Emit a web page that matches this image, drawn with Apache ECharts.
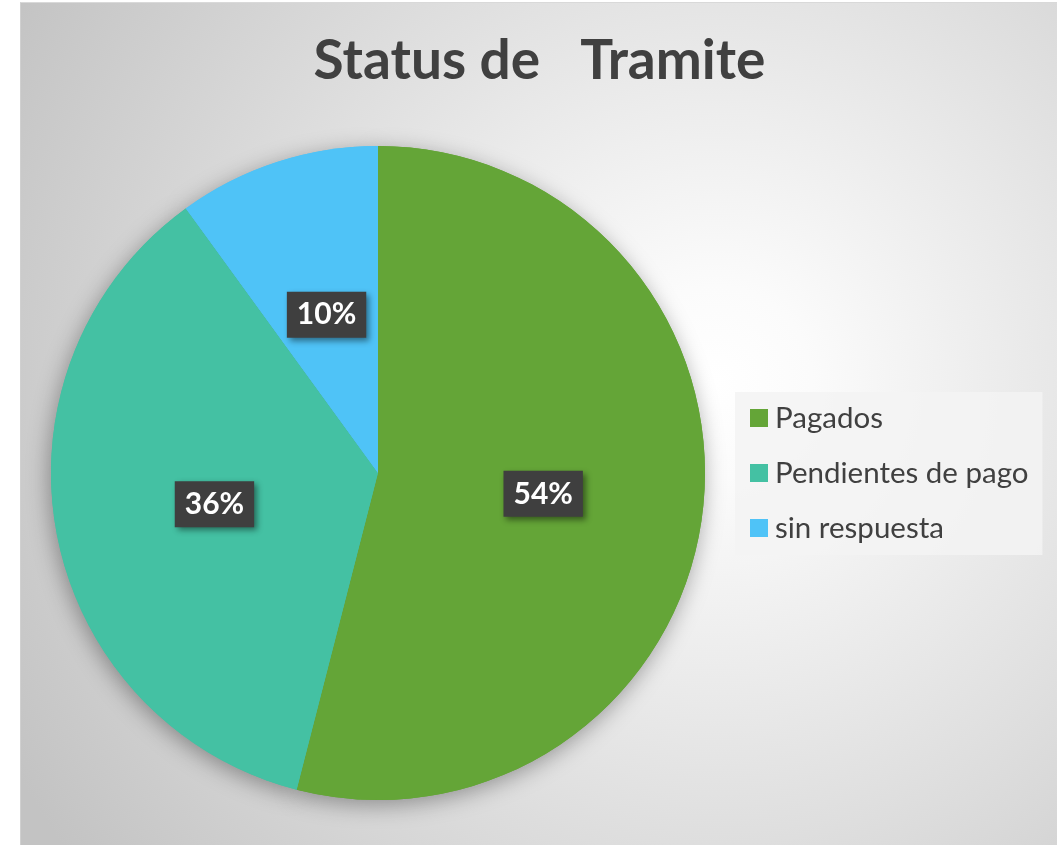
<!DOCTYPE html>
<html>
<head>
<meta charset="utf-8">
<script src="https://cdn.jsdelivr.net/npm/echarts@6/dist/echarts.min.js"></script>
<style>
  html, body { margin: 0; padding: 0; background: #ffffff; }
  #chart {
    position: absolute; left: 20px; top: 2px;
    width: 1037px; height: 843px;
    border-top: 1px solid #d9d9d9; border-left: 1px solid #d0d0d0;
  }
</style>
</head>
<body>
<div id="chart"></div>
<script>
// data
var titleText = "Status de   Tramite";
var categories = ["Pagados", "Pendientes de pago", "sin respuesta"];
var values = [54, 36, 10];
var colors = ["#64a537", "#44c1a3", "#4fc3f7"];

var pieData = categories.map(function (name, i) {
  return { name: name, value: values[i], itemStyle: { color: colors[i] } };
});

var myChart = echarts.init(document.getElementById("chart"));
var option = {
  animation: false,
  backgroundColor: {
    type: "radial",
    x: 0.67, y: 0.45, r: 0.95,
    colorStops: [
      { offset: 0, color: "#ffffff" },
      { offset: 0.12, color: "#fbfbfb" },
      { offset: 1, color: "#c3c3c3" }
    ]
  },
  title: {
    text: titleText,
    left: "center",
    top: 26,
    textStyle: {
      fontFamily: "Lato",
      fontWeight: "bold",
      fontSize: 55,
      color: "#404040"
    }
  },
  legend: {
    orient: "vertical",
    left: 714,
    top: 389,
    icon: "rect",
    itemWidth: 18,
    itemHeight: 18,
    itemGap: 21,
    padding: [9, 14, 10, 15],
    backgroundColor: "rgba(243,243,243,0.85)",
    textStyle: {
      fontFamily: "Lato",
      fontSize: 29.5,
      lineHeight: 34,
      color: "#404040",
      padding: [0, 0, 0, 2]
    },
    data: categories
  },
  series: [
    {
      // shadow under the pie
      type: "pie",
      silent: true,
      center: [357, 470],
      radius: 327,
      label: { show: false },
      labelLine: { show: false },
      itemStyle: {
        shadowBlur: 22,
        shadowColor: "rgba(0,0,0,0.35)",
        shadowOffsetX: -2,
        shadowOffsetY: 5
      },
      data: pieData
    },
    {
      name: "Status",
      type: "pie",
      center: [357, 470],
      radius: 327,
      label: {
        show: true,
        position: "inside",
        formatter: "{d}%",
        fontFamily: "Lato",
        fontWeight: "bold",
        fontSize: 30,
        color: "#ffffff",
        backgroundColor: "#3f3f3f",
        padding: [8, 10, 8, 10],
        shadowColor: "rgba(0,0,0,0.45)",
        shadowBlur: 6,
        shadowOffsetX: 3,
        shadowOffsetY: 3
      },
      labelLine: { show: false },
      data: pieData
    }
  ]
};
myChart.setOption(option);
</script>
</body>
</html>
